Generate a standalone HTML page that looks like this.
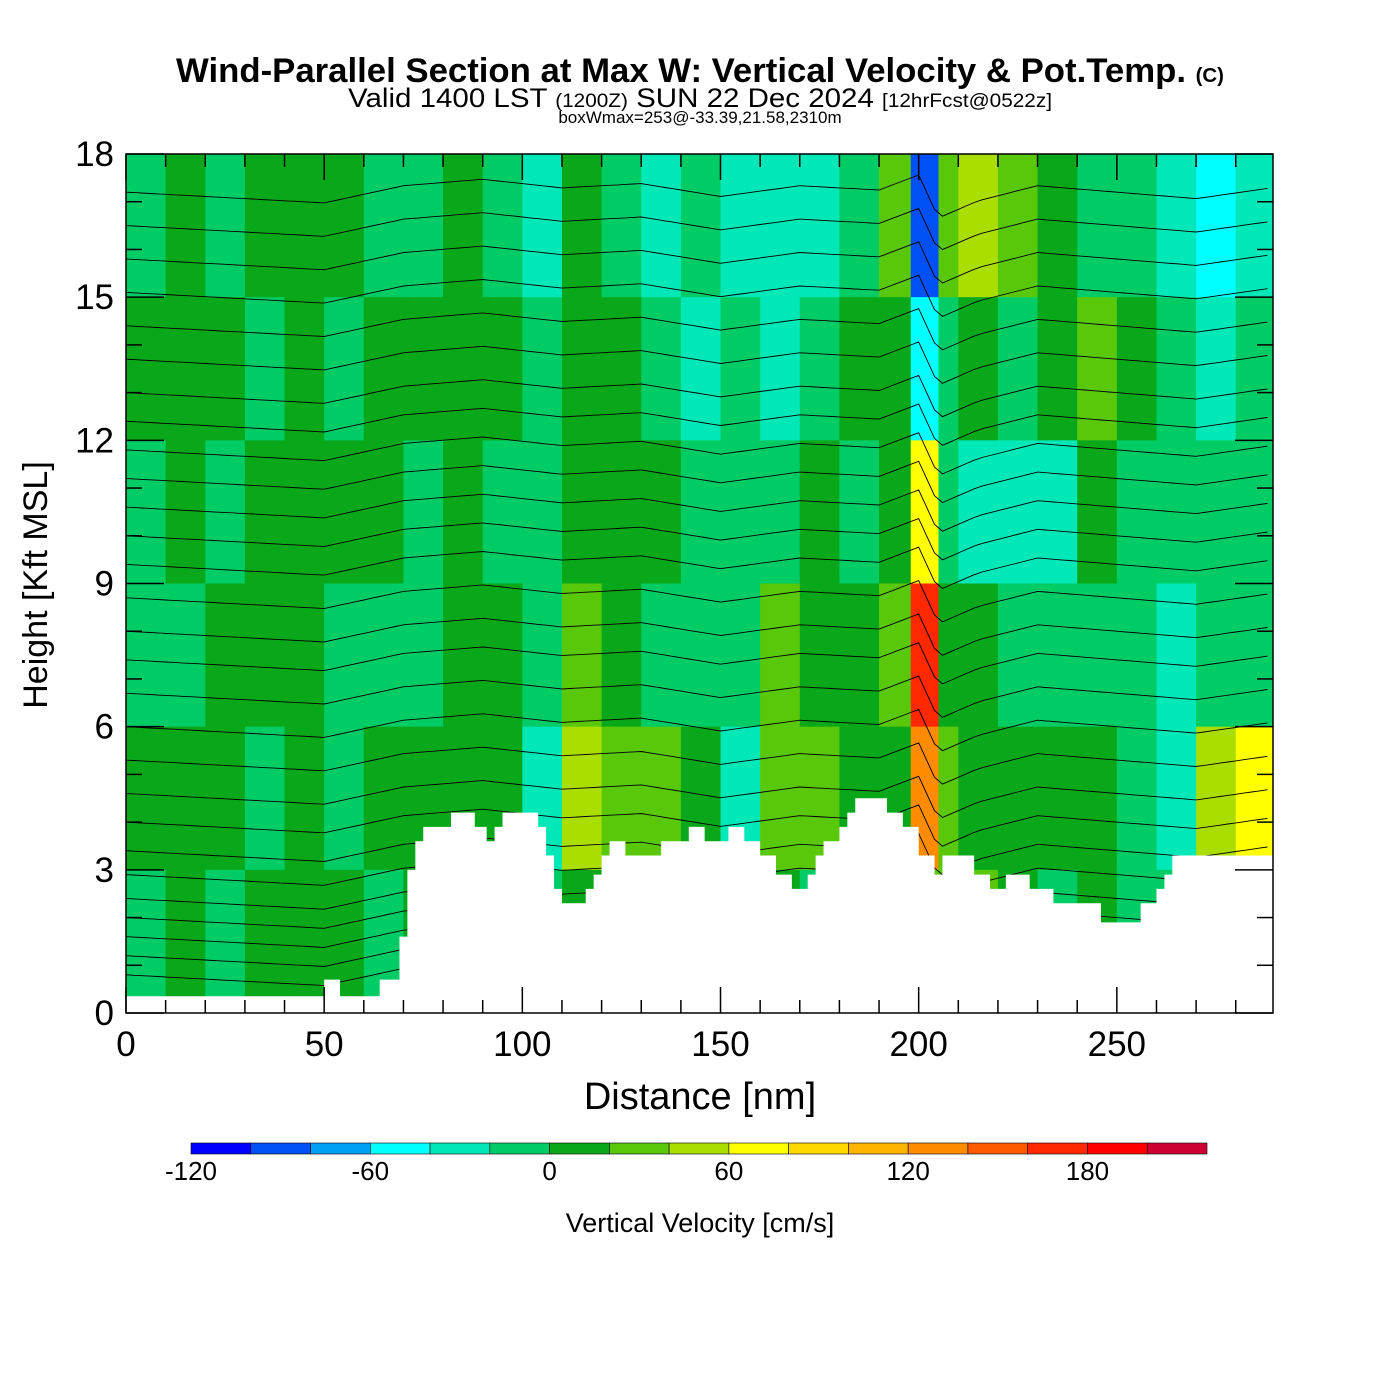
<!DOCTYPE html>
<html><head><meta charset="utf-8"><style>
html,body{margin:0;padding:0;background:#fff;}
svg{display:block;font-family:"Liberation Sans",sans-serif;}
</style></head><body>
<svg id="chart" width="1400" height="1400" viewBox="0 0 1400 1400" xmlns="http://www.w3.org/2000/svg">
<text x="700" y="82" text-anchor="middle" font-size="34" font-weight="bold" textLength="1048" lengthAdjust="spacingAndGlyphs">Wind-Parallel Section at Max W: Vertical Velocity &amp; Pot.Temp. <tspan font-size="20">(C)</tspan></text>
<text x="700" y="107" text-anchor="middle" font-size="27" textLength="704" lengthAdjust="spacingAndGlyphs">Valid 1400 LST <tspan font-size="19">(1200Z)</tspan> SUN 22 Dec 2024 <tspan font-size="19">[12hrFcst@0522z]</tspan></text>
<text x="700" y="123" text-anchor="middle" font-size="17">boxWmax=253@-33.39,21.58,2310m</text>
<g id="plot"></g>
<text x="700" y="1109" text-anchor="middle" font-size="38">Distance [nm]</text>
<text transform="translate(47,585) rotate(-90)" text-anchor="middle" font-size="34">Height [Kft MSL]</text>
<g id="cbar"></g>
<text x="700" y="1232" text-anchor="middle" font-size="27">Vertical Velocity [cm/s]</text>
</svg>
<script>
// ---- data ----
const xMax = 289.4, yMax = 18;
const colStarts = [0,10,20,30,40,50,60,70,80,90,100,110,120,130,140,150,160,170,180,190,198,205,210,220,230,240,250,260,270,280];
const bandTops = [18,15,12,9,6,3]; // each band 3 kft, listed top to bottom
const wValues = [
[-10,10,-10,-10,10,-10],[10,10,10,-10,10,10],[-10,10,-10,10,10,-10],[10,-10,10,10,-10,10],
[10,10,10,10,10,10],[10,-10,10,-10,-10,10],[-10,10,10,-10,10,-10],[-10,10,-10,-10,10,10],
[10,10,10,10,10,10],[-10,10,-10,10,10,10],[-30,-10,-10,-10,-30,-10],[10,10,10,30,50,10],
[-10,10,10,10,30,10],[-30,-10,10,-10,30,-10],[-10,-30,-10,-10,10,-10],[-30,-10,-10,-10,-30,-10],
[-30,-30,-10,30,30,10],[-30,-10,10,10,30,-10],[-10,10,-10,10,10,10],[30,10,10,30,10,10],
[-90,-50,70,170,130,30],[30,-10,-10,10,30,30],[50,10,-30,10,10,30],[30,-10,-30,-10,10,10],[10,10,-30,-10,10,-10],
[-10,30,10,-10,10,10],[-10,10,-10,-10,-10,-10],[-30,-10,-10,-30,-30,-10],[-50,-30,-10,-10,50,30],
[-30,-10,-10,-10,70,10]];
const terrainX = [0,50,54,64,69,71,73,75,82,88,91,93,95,104,106,108,110,116,118,120,122,126,135,142,146,152,156,160,164,168,172,174,176,180,182,184,192,196,200,204,206,214,218,222,228,234,246,256,260,262,264,290];
const terrainH = [0.35,0.7,0.35,0.7,1.6,3.0,3.6,3.9,4.2,3.9,3.6,3.9,4.2,3.9,3.3,2.6,2.3,2.6,2.9,3.3,3.6,3.3,3.6,3.9,3.6,3.9,3.6,3.3,2.9,2.6,2.9,3.3,3.6,3.9,4.2,4.5,4.2,3.9,3.3,2.9,3.3,2.9,2.6,2.9,2.6,2.3,1.9,2.3,2.6,2.9,3.3,3.3];
const thetaHeights = [0.8,1.2,1.6,2.0,2.4,2.9,3.4,4.0,4.6,5.3,6.0,6.7,7.4,8.0,8.7,9.4,10.0,10.6,11.2,11.8,12.4,13.0,13.7,14.4,15.1,15.8,16.5,17.2];
const dispX = [0,30,50,70,90,110,130,150,170,190,200,205,215,230,250,270,289];
const dispK = [0,-0.3,-0.5,0.3,0.6,0.2,0.4,-0.2,0.3,0.1,0.8,-1.2,-0.4,0.3,0.0,-0.3,0.2];
const cbLevels = [-120,-100,-80,-60,-40,-20,0,20,40,60,80,100,120,140,160,180,200,220];
const cbColors = ["#0000ff","#0050f5","#00a0f5","#00ffff","#00e8b8","#00cc66","#09a81b","#5ac80a","#aade00","#ffff00","#ffd800","#ffb400","#ff8c00","#ff5a00","#ff2800","#ff0000","#cc0033"];
const cbLabels = [-120,-60,0,60,120,180];
// ---- helpers ----
const NS="http://www.w3.org/2000/svg";
const L=126,R=1273,T=154,B=1013;
const sx=v=>L+(v/xMax)*(R-L), sy=v=>B-(v/yMax)*(B-T);
function colorFor(w){for(let i=0;i<cbColors.length;i++){if(w<cbLevels[i+1])return cbColors[i];}return cbColors[cbColors.length-1];}
function mk(tag,attrs,parent){const e=document.createElementNS(NS,tag);for(const k in attrs)e.setAttribute(k,attrs[k]);parent.appendChild(e);return e;}
function disp(x){for(let i=0;i<dispX.length-1;i++){if(x<=dispX[i+1]){const t=(x-dispX[i])/(dispX[i+1]-dispX[i]);return dispK[i]+t*(dispK[i+1]-dispK[i]);}}return dispK[dispK.length-1];}
const plot=document.getElementById('plot');
const cells=mk('g',{},plot);


colStarts.forEach((c,i)=>{
  const c2=i<colStarts.length-1?colStarts[i+1]:xMax;
  bandTops.forEach((bt,j)=>{
    const r=mk('rect',{x:sx(c),y:sy(bt),width:sx(c2)-sx(c)+0.5,height:sy(bt-3)-sy(bt)+0.5,fill:colorFor(wValues[i][j])},cells);
    
    
  });
});
// contours
const cont=mk('g',{fill:'none',stroke:'#000','stroke-width':0.9},plot);


thetaHeights.forEach(h=>{
  let d='';
  for(let x=0;x<=xMax;x+=2){const yy=Math.min(18,h+disp(x)*0.45);d+=(x?'L':'M')+sx(x).toFixed(1)+','+sy(yy).toFixed(1);}
  const p=mk('path',{d:d},cont);
  
  
});
// terrain
let td='M'+sx(0)+','+B;
terrainX.forEach((x,i)=>{if(i<terrainX.length-1){td+='L'+sx(x)+','+sy(terrainH[i])+'L'+sx(terrainX[i+1]>xMax?xMax:terrainX[i+1])+','+sy(terrainH[i]);}});
td+='L'+R+','+B+'Z';
const ter=mk('path',{d:td,fill:'#fff'},plot);


// frame & ticks
const ax=mk('g',{stroke:'#000','stroke-width':1.5},plot);


mk('rect',{x:L,y:T,width:R-L,height:B-T,fill:'none'},ax);
for(let x=0;x<=xMax;x+=10){const len=x%50===0?26:13;mk('line',{x1:sx(x),y1:B,x2:sx(x),y2:B-len},ax);mk('line',{x1:sx(x),y1:T,x2:sx(x),y2:T+len},ax);}
for(let y=0;y<=18;y+=1){const len=y%3===0?38:16;mk('line',{x1:L,y1:sy(y),x2:L+len,y2:sy(y)},ax);mk('line',{x1:R,y1:sy(y),x2:R-len,y2:sy(y)},ax);}
for(let x=0;x<=250;x+=50){const t=mk('text',{x:sx(x),y:1056,'text-anchor':'middle','font-size':35},plot);t.textContent=x;
  }
for(let y=0;y<=18;y+=3){const t=mk('text',{x:114,y:sy(y)+12,'text-anchor':'end','font-size':35},plot);t.textContent=y;
  }
// colorbar
const cb=document.getElementById('cbar');
const cx0=191,cx1=1207,cw=(cx1-cx0)/cbColors.length;
cbColors.forEach((c,i)=>{const r=mk('rect',{x:cx0+i*cw,y:1143,width:cw,height:11,fill:c,stroke:'#000','stroke-width':0.6},cb);
  });
cbLabels.forEach(v=>{const i=cbLevels.indexOf(v);const t=mk('text',{x:cx0+i*cw,y:1180,'text-anchor':'middle','font-size':26},cb);t.textContent=v;
  });
</script>
</body></html>
